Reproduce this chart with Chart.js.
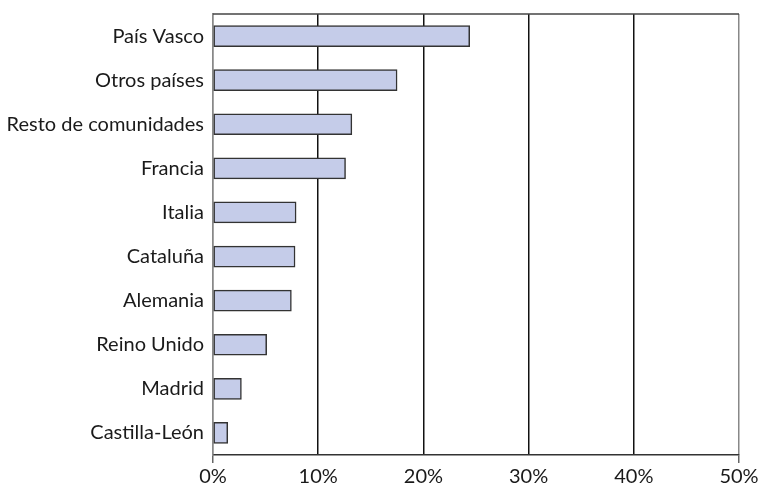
<!DOCTYPE html>
<html lang="es">
<head>
  <meta charset="UTF-8">
  <title>Procedencia</title>
  <script src="https://cdn.jsdelivr.net/npm/chart.js@4.4.1/dist/chart.umd.min.js"></script>
  <style>
    body { margin: 0; background: #fff; }
    #wrap { width: 770px; height: 486px; }
  </style>
</head>
<body>
  <div id="wrap"><canvas id="myChart"></canvas></div>

  <script>
    const regiones = ['País Vasco', 'Otros países', 'Resto de comunidades', 'Francia', 'Italia',
                      'Cataluña', 'Alemania', 'Reino Unido', 'Madrid', 'Castilla-León']
    const porcentajes = [24.4, 17.5, 13.2, 12.6, 7.9, 7.8, 7.45, 5.1, 2.7, 1.4]
    const ticksX = [0, 10, 20, 30, 40, 50]

    const fuente = { family: 'Lato, "Open Sans", sans-serif', size: 20 }

    // marco superior que no dibuja ningún eje
    const marco = {
      id: 'marco',
      afterDraw(chart) {
        const { ctx, chartArea: a } = chart
        ctx.save()
        ctx.strokeStyle = '#444'
        ctx.lineWidth = 1.5
        ctx.beginPath()
        ctx.moveTo(a.left, a.top)
        ctx.lineTo(a.right, a.top)
        ctx.stroke()
        ctx.restore()
      }
    }

    const ctx = document.getElementById('myChart').getContext('2d')
    new Chart(ctx, {
      type: 'bar',
      data: {
        labels: regiones,
        datasets: [{
          data: porcentajes,
          backgroundColor: '#c5cce9',
          borderColor: '#333',
          borderWidth: 1.5,
          borderSkipped: false,
          barThickness: 21
        }]
      },
      options: {
        indexAxis: 'y',
        responsive: true,
        maintainAspectRatio: false,
        animation: false,
        layout: { padding: { top: 14, right: 31, left: 0, bottom: 0 } },
        plugins: { legend: { display: false }, tooltip: { enabled: false } },
        scales: {
          x: {
            min: 0,
            max: 50,
            afterBuildTicks: axis => { axis.ticks = ticksX.map(v => ({ value: v })) },
            afterFit: axis => { axis.height = 31; axis.paddingLeft = 0; axis.paddingRight = 0 },
            grid: {
              color: c => (c.index === 0 || c.index === 5) ? '#888' : '#111',
              lineWidth: 1.5,
              tickLength: 8,
              tickColor: c => (c.index === 0 || c.index === 5) ? '#666' : 'rgba(0,0,0,0)'
            },
            border: { color: '#333', width: 1.5 },
            ticks: {
              color: '#1a1a1a',
              font: fuente,
              padding: 2,
              callback: v => v + '%'
            }
          },
          y: {
            afterFit: axis => { axis.width = 213; axis.paddingTop = 0; axis.paddingBottom = 0 },
            grid: { display: false, drawTicks: false },
            border: { color: '#888', width: 1.5 },
            ticks: { color: '#1a1a1a', font: fuente, padding: 9 }
          }
        }
      },
      plugins: [marco]
    })
  </script>
</body>
</html>
